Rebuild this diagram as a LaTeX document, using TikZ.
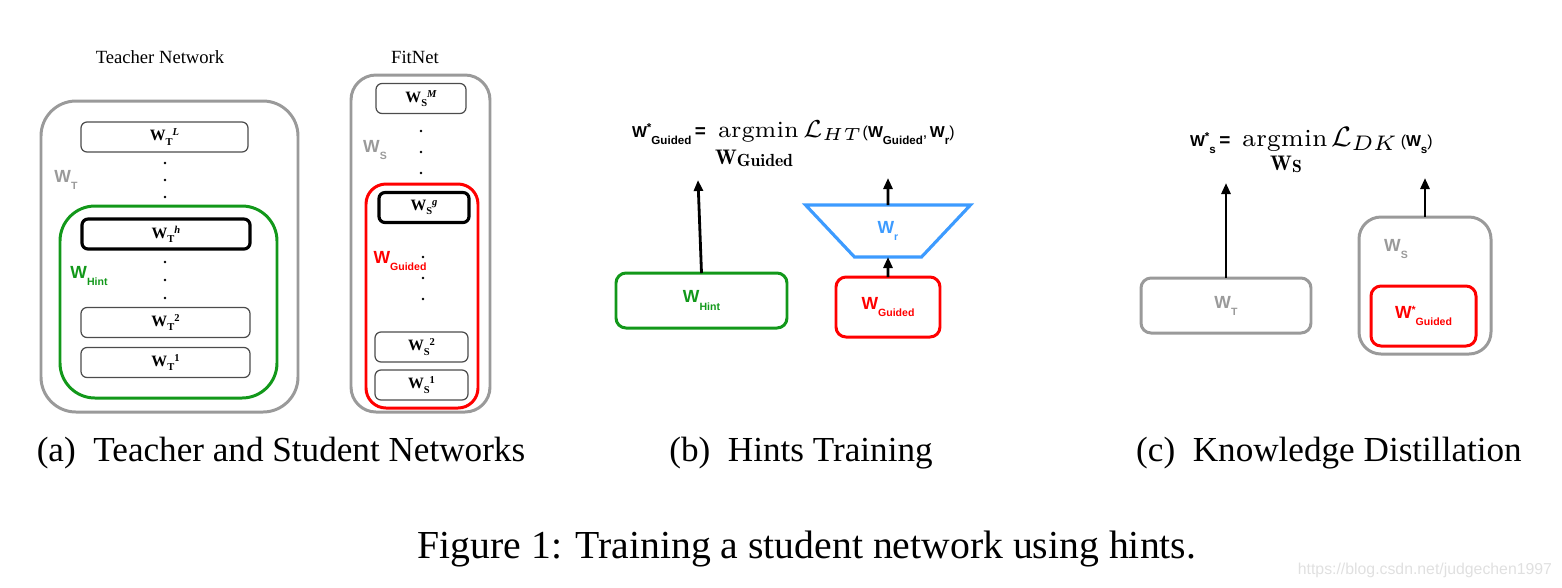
\documentclass[tikz,border=0pt]{standalone}
\usepackage[no-math]{fontspec}
\setmainfont{Liberation Serif}
\newfontfamily\lsans{Liberation Sans}
\usetikzlibrary{
	positioning,
	arrows.meta,
	shapes.geometric
}

\definecolor{boxgray}{HTML}{9A9A9A}
\definecolor{hintgreen}{HTML}{12981A}
\definecolor{guidered}{HTML}{FF0000}
\definecolor{regblue}{HTML}{3D9BFF}

\newcommand{\lmr}{\fontfamily{lmr}\selectfont}
\newcommand{\subsz}{\fontsize{3}{3}\selectfont}
\newcommand{\laysz}{\fontsize{4.5}{5}\selectfont}
\newcommand{\lblsz}{\fontsize{5}{6}\selectfont}
\newcommand{\fmsz}{\fontsize{4.5}{5}\selectfont}
\newcommand{\ttlsz}{\fontsize{5.3}{6}\selectfont}
\newcommand{\capsz}{\fontsize{10}{12}\selectfont}
% sans W with subscript, with star
\newcommand{\sw}[2][3]{{\lsans\bfseries W\raisebox{-2pt}{\fontsize{#1}{#1}\selectfont #2}}}
\newcommand{\swst}[2][3]{{\lsans\bfseries W\raisebox{1.6pt}{\fontsize{#1}{#1}\selectfont *}\raisebox{-2pt}{\fontsize{#1}{#1}\selectfont #2}}}
\newcommand{\eq}{{\lsans\bfseries\fontsize{5.4}{6}\selectfont =}}
% serif layer weights
\newcommand{\lay}[2]{\textbf{W}\raisebox{-1.2pt}{\subsz\bfseries #1}\raisebox{1.4pt}{\subsz\bfseries #2}}

\tikzset{
	netbox/.style={draw=boxgray, line width=0.85pt, rounded corners=#1},
	hintbox/.style={draw=hintgreen, line width=0.85pt, rounded corners=#1},
	guidebox/.style={draw=guidered, line width=0.85pt, rounded corners=#1},
	layer/.style={draw=black!70, line width=0.35pt, rounded corners=0.6mm,
		minimum height=3.0mm, font=\laysz},
	keylayer/.style={layer, draw=black, line width=0.9pt},
	arr/.style={-{Triangle[length=1.1mm,width=0.9mm]}, line width=0.8pt},
	lbl/.style={font=\lblsz},
	fm/.style={font=\fmsz, anchor=base west},
	subcap/.style={font=\capsz, anchor=base}
}

\begin{document}
\begin{tikzpicture}[x=0.1mm, y=-0.1mm, every node/.style={inner sep=0pt, outer sep=0pt}]
	\useasboundingbox (0,0) rectangle (1562,587);

	% (a) teacher network
	\node[font=\ttlsz] (ttitle) at (160,57) {Teacher Network};
	\node[netbox=3.5mm, minimum width=25.7mm, minimum height=31.1mm] (teacher) at (169.5,256.5) {};
	\node[hintbox=3.5mm, minimum width=21.7mm, minimum height=19.2mm] (hint) at (168.5,302) {};
	\node[layer, minimum width=16.7mm]    (tL) at (164.5,137)   {\lay{T}{\itshape L}};
	\node[keylayer, minimum width=16.8mm] (th) at (166,234)     {\lay{T}{\itshape h}};
	\node[layer, minimum width=16.9mm]    (t2) at (165.5,322.5) {\lay{T}{2}};
	\node[layer, minimum width=16.9mm]    (t1) at (165.5,362.5) {\lay{T}{1}};
	\foreach \y in {163,180,197,262,280,298}
		\fill (165,\y) circle[radius=0.13mm];
	\node[lbl, text=boxgray]   (wtlab)   at (66,180) {\sw{T}};
	\node[lbl, text=hintgreen] (hintlab) at (89,276) {\sw{Hint}};

	% (a) fitnet
	\node[font=\ttlsz] (ftitle) at (415,57) {FitNet};
	\node[netbox=2.5mm, minimum width=13.9mm, minimum height=33.7mm] (fitnet) at (420.5,243.5) {};
	\node[guidebox=2mm, minimum width=11.2mm, minimum height=22.4mm] (guided) at (422,296) {};
	\node[layer, minimum width=9.0mm]    (sM) at (421,98.5)  {\lay{S}{\itshape M}};
	\node[keylayer, minimum width=9.0mm] (sg) at (424,207.5) {\lay{S}{\itshape g}};
	\node[layer, minimum width=9.3mm]    (s2) at (421.5,347) {\lay{S}{2}};
	\node[layer, minimum width=9.3mm]    (s1) at (421.5,385) {\lay{S}{1}};
	\foreach \y in {131,152,173}
		\fill (421,\y) circle[radius=0.13mm];
	\foreach \y in {257,278,299}
		\fill (423,\y) circle[radius=0.13mm];
	\node[lbl, text=boxgray]  (wslab)   at (375,150) {\sw{S}};
	\node[lbl, text=guidered] (guidlab) at (400,261) {\sw{Guided}};

	% (b) hints training
	\node[hintbox=1mm, minimum width=17.1mm, minimum height=5.5mm, lbl, text=hintgreen] (hintb) at (701.5,300.5) {\sw{Hint}};
	\node[trapezium, trapezium angle=51.7, shape border rotate=180, trapezium stretches=true,
		minimum width=16.5mm, minimum height=5.2mm, draw=regblue, line width=0.9pt,
		lbl, text=regblue] (wr) at (888,231) {\sw{r}};
	\node[guidebox=1mm, minimum width=10.4mm, minimum height=6.0mm, lbl, text=guidered] (guidedb) at (888,307) {\sw{Guided}};
	\coordinate (htend) at (698,180);
	\coordinate (wrend) at (888,178);
	\draw[arr] (hintb.north) -- (htend);
	\draw[arr] (guidedb.north) -- (wr.south);
	\draw[arr] (wr.north) -- (wrend);
	\node[fm] (htlhs) at (632,137) {\swst[3.3]{Guided}\kern1pt\eq};
	\node[fm, font=\lmr\fontsize{6.6}{8}\selectfont] (htarg) at (718,137) {argmin};
	\node[anchor=base, font=\lmr\bfseries\fontsize{6}{7}\selectfont] (htsub) at (754,164)
		{W\raisebox{-0.8pt}{\fontsize{5}{6}\selectfont Guided}};
	\node[fm] (htloss) at (803,137)
		{{\fontsize{7}{8}\selectfont$\mathcal{L}_{HT}$}{\lsans(}\sw[3.3]{Guided}{\lsans,}\,\sw[3.3]{r}{\lsans)}};

	% (c) knowledge distillation
	\node[netbox=1mm, minimum width=17mm, minimum height=5.5mm, lbl, text=boxgray] (wt) at (1226,305.5) {\sw{T}};
	\node[netbox=2.2mm, minimum width=13.2mm, minimum height=13.7mm] (wsc) at (1425,285.5) {};
	\node[guidebox=1mm, minimum width=10.5mm, minimum height=6mm, lbl, text=guidered] (guidedc) at (1423.5,316) {\swst{Guided}};
	\node[lbl, text=boxgray] (wsclab) at (1396,249) {\sw{S}};
	\coordinate (wtend) at (1226,183);
	\coordinate (wsend) at (1425,178);
	\draw[arr] (wt.north) -- (wtend);
	\draw[arr] (wsc.north) -- (wsend);
	\node[fm] (dklhs) at (1190,146) {\swst[3.3]{s}\kern1pt\eq};
	\node[fm, font=\lmr\fontsize{7}{9}\selectfont] (dkarg) at (1242,146) {argmin};
	\node[anchor=base, font=\lmr\bfseries\fontsize{6}{7}\selectfont] (dksub) at (1286,170)
		{W\raisebox{-0.8pt}{\fontsize{5}{6}\selectfont S}};
	\node[fm] (dkloss) at (1331,146)
		{{\fontsize{8}{9}\selectfont$\mathcal{L}_{DK}$}\,{\lsans(}\sw[3.3]{s}{\lsans)}};

	% captions
	\node[subcap] (capa) at (281,461)  {(a)\enspace Teacher and Student Networks};
	\node[subcap] (capb) at (801,461)  {(b)\enspace Hints Training};
	\node[subcap] (capc) at (1329,461) {(c)\enspace Knowledge Distillation};
	\node[subcap, font=\fontsize{11.3}{13}\selectfont] (figcap) at (807,558) {Figure 1: Training a student network using hints.};
	\node[anchor=base east, font=\fontsize{4.5}{5}\selectfont\lsans, text=black!12] (wm) at (1552,574) {https://blog.csdn.net/judgechen1997};
\end{tikzpicture}
\end{document}
